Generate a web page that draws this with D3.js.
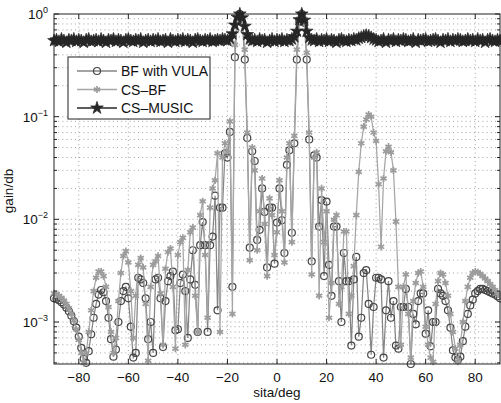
<!DOCTYPE html>
<html>
<head>
<meta charset="utf-8">
<script src="https://cdn.jsdelivr.net/npm/d3@7.9.0/dist/d3.min.js"></script>
<style>
  body { margin: 0; background: #fff; }
  svg { display: block; font-family: "Liberation Sans", Arial, Helvetica, sans-serif; }
</style>
</head>
<body>
<svg id="chart" width="501" height="403"></svg>
<script>
// angle grid (deg), one sample per degree
let angles = d3.range(-90, 91, 1);

// BF with VULA, -90 .. 90
let bfVula = [
  1.7e-3, 1.68e-3, 1.63e-3, 1.56e-3, 1.48e-3, 1.38e-3, 1.27e-3, 1.15e-3, 1.02e-3, 8.8e-4,
  7.2e-4, 5.6e-4, 4.4e-4, 4.0e-4, 5.2e-4, 7.6e-4, 1.1e-3, 1.5e-3, 1.85e-3, 2.05e-3,
  1.95e-3, 1.6e-3, 1.1e-3, 6.8e-4, 4.6e-4, 5.4e-4, 1.0e-3, 1.6e-3, 2.0e-3, 2.2e-3,
  1.7e-3, 9e-4, 4.5e-4, 5e-4, 2.7e-3, 2.6e-3, 2.4e-3, 1.7e-3, 6.8e-4, 1.0e-3,
  5e-4, 2.6e-3, 2.7e-3, 1.7e-3, 5.7e-4, 1.6e-3, 2.5e-3, 2.8e-3, 3.1e-3, 8.3e-4,
  8.5e-4, 2.4e-3, 2.9e-3, 2.0e-3, 7e-4, 2.6e-3, 5.0e-3, 2.3e-3, 8e-4, 5.6e-3,
  9.4e-3, 5.6e-3, 8e-4, 5.6e-3, 6.8e-3, 1.7e-2, 1.3e-3, 1.3e-2, 1.3e-2, 4.4e-2,
  4.0e-2, 7.1e-2, 2.2e-3, 0.38, 0.85, 1.0, 0.82, 0.36, 0.062, 0.0053,
  0.046, 0.037, 0.0063, 0.0079, 0.020, 0.0118, 0.0034, 0.013, 0.013, 0.0037,
  0.0093, 0.020, 0.0098, 0.0047, 0.034, 0.047, 0.0074, 0.055, 0.36, 0.85,
  1.0, 0.82, 0.36, 0.060, 0.0039, 0.042, 0.040, 0.0085, 0.0154, 0.0028,
  0.0149, 0.0036, 0.0018, 0.0085, 0.0085, 0.0025, 0.0010, 0.0047, 0.0025, 0.0025,
  5.9e-4, 0.0026, 0.0043, 7.2e-4, 0.0011, 0.0030, 0.0032, 0.0015, 4.8e-4, 0.0014,
  0.0027, 0.0027, 0.0026, 4.5e-4, 0.0013, 0.0025, 0.0011, 0.0016, 5.9e-4, 5.5e-4,
  0.0014, 0.0014, 0.0021, 0.0014, 3.9e-4, 0.0012, 9.5e-4, 0.0016, 0.0019, 0.0019,
  7.7e-4, 0.0013, 5.8e-4, 0.0010, 0.0010, 0.0021, 0.0019, 0.0018, 0.0016, 0.0013,
  8.8e-4, 5.3e-4, 4.5e-4, 4.3e-4, 4.6e-4, 6.5e-4, 9e-4, 1.2e-3, 1.45e-3, 1.65e-3,
  1.9e-3, 2.0e-3, 2.1e-3, 2.1e-3, 2.05e-3, 2.0e-3, 1.95e-3, 1.9e-3, 1.85e-3, 1.78e-3,
  1.7e-3
];

// CS-BF, -90 .. 90
let csBf = [
  1.9e-3, 1.87e-3, 1.8e-3, 1.72e-3, 1.62e-3, 1.5e-3, 1.36e-3, 1.2e-3, 1.03e-3, 8.5e-4,
  6.7e-4, 5.0e-4, 4.0e-4, 5.0e-4, 8e-4, 1.3e-3, 2.0e-3, 2.7e-3, 3.1e-3, 3.1e-3,
  2.8e-3, 2.2e-3, 1.4e-3, 8e-4, 5e-4, 7e-4, 1.6e-3, 3.0e-3, 4.4e-3, 4.9e-3,
  3.8e-3, 2.0e-3, 7e-4, 1.8e-3, 3.6e-3, 4.2e-3, 3.4e-3, 1.5e-3, 4.2e-4, 2.2e-3,
  3.6e-3, 3.9e-3, 4.4e-3, 1.9e-3, 6e-4, 3.3e-3, 4.8e-3, 5.2e-3, 2.2e-3, 5.5e-4,
  4.5e-3, 6.0e-3, 6.6e-3, 6e-4, 3.2e-3, 7.5e-3, 8.3e-3, 1.8e-3, 8e-4, 1.1e-2,
  1.5e-2, 4.5e-3, 1.1e-3, 1.3e-2, 2.0e-2, 2.4e-2, 4.4e-2, 8e-4, 4.0e-2, 5.5e-2,
  4.5e-2, 9.0e-2, 1.2e-3, 0.5, 0.9, 1.0, 0.9, 0.45, 0.07, 0.004,
  0.05, 0.03, 0.005, 0.012, 0.025, 0.009, 0.0028, 0.016, 0.011, 0.0045,
  0.0075, 0.024, 0.012, 0.0038, 0.04, 0.055, 0.006, 0.065, 0.45, 0.9,
  1.0, 0.9, 0.42, 0.07, 0.0029, 0.04, 0.045, 0.0018, 0.02, 0.006,
  0.012, 0.0011, 0.0024, 0.0099, 0.011, 0.0015, 0.0022, 0.0076, 0.0076, 0.0012,
  0.0018, 0.0035, 0.011, 0.029, 0.055, 0.08, 0.094, 0.105, 0.1, 0.07,
  0.058, 0.022, 0.0054, 0.025, 0.046, 0.051, 0.045, 0.03, 0.0095, 0.0022,
  6e-4, 2.2e-3, 2.9e-3, 1.2e-3, 4.5e-4, 1.6e-3, 2.4e-3, 3.0e-3, 3.1e-3, 2.2e-3,
  9e-4, 6e-4, 4.5e-4, 4.1e-4, 1.5e-3, 2.5e-3, 3.0e-3, 2.9e-3, 2.4e-3, 1.8e-3,
  1.2e-3, 8e-4, 5.5e-4, 4.1e-4, 6e-4, 1.0e-3, 1.6e-3, 2.2e-3, 2.7e-3, 3.0e-3,
  3.1e-3, 3.05e-3, 2.95e-3, 2.8e-3, 2.65e-3, 2.5e-3, 2.35e-3, 2.2e-3, 2.05e-3, 1.9e-3,
  1.8e-3
];

// CS-MUSIC, -90 .. 90
let csMusic = [
  0.55, 0.56, 0.54, 0.57, 0.55, 0.53, 0.56, 0.55, 0.57, 0.54,
  0.56, 0.55, 0.53, 0.56, 0.57, 0.54, 0.55, 0.56, 0.54, 0.57,
  0.55, 0.53, 0.56, 0.55, 0.57, 0.54, 0.56, 0.55, 0.53, 0.56,
  0.57, 0.55, 0.54, 0.56, 0.55, 0.57, 0.53, 0.55, 0.56, 0.54,
  0.56, 0.55, 0.57, 0.54, 0.55, 0.56, 0.53, 0.57, 0.55, 0.54,
  0.56, 0.55, 0.57, 0.54, 0.56, 0.55, 0.53, 0.56, 0.57, 0.55,
  0.54, 0.56, 0.55, 0.57, 0.54, 0.55, 0.56, 0.55, 0.57, 0.56,
  0.55, 0.58, 0.64, 0.78, 0.93, 1.0, 0.92, 0.76, 0.63, 0.57,
  0.55, 0.56, 0.54, 0.57, 0.55, 0.56, 0.53, 0.55, 0.57, 0.54,
  0.56, 0.55, 0.57, 0.54, 0.56, 0.55, 0.57, 0.60, 0.68, 0.88,
  1.0, 0.87, 0.68, 0.59, 0.56, 0.55, 0.57, 0.54, 0.56, 0.55,
  0.57, 0.54, 0.56, 0.55, 0.53, 0.56, 0.57, 0.55, 0.54, 0.56,
  0.55, 0.57, 0.56, 0.58, 0.59, 0.61, 0.62, 0.61, 0.59, 0.57,
  0.56, 0.54, 0.55, 0.57, 0.53, 0.56, 0.55, 0.57, 0.54, 0.56,
  0.55, 0.57, 0.56, 0.54, 0.55, 0.57, 0.53, 0.56, 0.55, 0.56,
  0.57, 0.54, 0.55, 0.56, 0.57, 0.55, 0.53, 0.56, 0.55, 0.57,
  0.54, 0.56, 0.55, 0.57, 0.56, 0.54, 0.55, 0.57, 0.55, 0.56,
  0.54, 0.57, 0.55, 0.56, 0.53, 0.56, 0.57, 0.55, 0.54, 0.56,
  0.55
];

let xTicks = [-80, -60, -40, -20, 0, 20, 40, 60, 80];
let yTicks = [1e-3, 1e-2, 1e-1, 1];
let yExponents = ['-3', '-2', '-1', '0'];
let seriesNames = ['BF with VULA', 'CS\u2013BF', 'CS\u2013MUSIC'];

let plotLeft = 54, plotRight = 500, plotTop = 14, plotBottom = 364;

let svg = d3.select('#chart');

let x = d3.scaleLinear().domain([-90, 90]).range([plotLeft, plotRight]);
let y = d3.scaleLog().domain([3.9e-4, 1]).range([plotBottom, plotTop]);

// minor log grid values 1..9 x 10^k inside the domain
let minorY = [];
[-4, -3, -2, -1, 0].forEach((k) => {
  for (let m = 1; m <= 9; m++) {
    let v = m * Math.pow(10, k);
    if (v >= 3.9e-4 && v <= 1) minorY.push(v);
  }
});

// grid
let grid = svg.append('g').attr('stroke', '#999').attr('stroke-width', 0.9)
  .attr('stroke-dasharray', '1,3.2');
minorY.forEach((v) => {
  if (v >= 1) return;
  grid.append('line').attr('x1', plotLeft).attr('x2', plotRight).attr('y1', y(v)).attr('y2', y(v));
});
xTicks.forEach((t) => {
  grid.append('line').attr('x1', x(t)).attr('x2', x(t)).attr('y1', plotTop).attr('y2', plotBottom);
});

// series
let data = angles.map((a, i) => ({ a: a, bf: bfVula[i], cs: csBf[i], mu: csMusic[i] }));

let styles = [
  { key: 'bf', line: '#858585', mark: '#454545', type: 'circle' },
  { key: 'cs', line: '#a6a6a6', mark: '#9c9c9c', type: 'asterisk' },
  { key: 'mu', line: '#262626', mark: '#262626', type: 'star' }
];

let starPath = d3.symbol().type(d3.symbolStar).size(50)();
let asteriskPath = d3.symbol().type(d3.symbolAsterisk).size(36)();

function drawMarker(g, type, cx, cy, color) {
  if (type === 'circle') {
    g.append('circle').attr('cx', cx).attr('cy', cy).attr('r', 3.5)
      .attr('fill', 'none').attr('stroke', color).attr('stroke-width', 1.2);
  } else if (type === 'asterisk') {
    g.append('path').attr('d', asteriskPath).attr('transform', `translate(${cx},${cy})`)
      .attr('fill', 'none').attr('stroke', color).attr('stroke-width', 1.7);
  } else {
    g.append('path').attr('d', starPath).attr('transform', `translate(${cx},${cy})`)
      .attr('fill', color).attr('stroke', color).attr('stroke-width', 0.7);
  }
}

styles.forEach((s) => {
  let line = d3.line().x((d) => x(d.a)).y((d) => y(d[s.key]));
  svg.append('path').datum(data).attr('d', line)
    .attr('fill', 'none').attr('stroke', s.line).attr('stroke-width', 1.25);
  let g = svg.append('g');
  data.forEach((d) => drawMarker(g, s.type, x(d.a), y(d[s.key]), s.mark));
});

// frame and ticks
let axis = svg.append('g').attr('stroke', '#222').attr('stroke-width', 1);
axis.append('rect').attr('x', plotLeft).attr('y', plotTop).attr('width', plotRight - plotLeft)
  .attr('height', plotBottom - plotTop).attr('fill', 'none');
xTicks.forEach((t) => {
  axis.append('line').attr('x1', x(t)).attr('x2', x(t)).attr('y1', plotBottom).attr('y2', plotBottom - 5);
  axis.append('line').attr('x1', x(t)).attr('x2', x(t)).attr('y1', plotTop).attr('y2', plotTop + 5);
});
minorY.forEach((v) => {
  let len = yTicks.includes(v) ? 5 : 3;
  axis.append('line').attr('x1', plotLeft).attr('x2', plotLeft + len).attr('y1', y(v)).attr('y2', y(v));
  axis.append('line').attr('x1', plotRight).attr('x2', plotRight - len).attr('y1', y(v)).attr('y2', y(v));
});

// tick labels
let labels = svg.append('g').attr('fill', '#111').attr('font-size', 13.5);
xTicks.forEach((t) => {
  labels.append('text').attr('x', x(t)).attr('y', 382).attr('text-anchor', 'middle')
    .text(t < 0 ? '\u2212' + Math.abs(t) : String(t));
});
yTicks.forEach((v, i) => {
  let txt = labels.append('text').attr('x', 48).attr('y', y(v) + 5).attr('text-anchor', 'end');
  txt.append('tspan').text('10');
  txt.append('tspan').attr('font-size', 9).attr('dy', -6)
    .text(yExponents[i].replace('-', '\u2212'));
});

labels.append('text').attr('x', 277).attr('y', 397).attr('text-anchor', 'middle').text('sita/deg');
labels.append('text').attr('transform', 'translate(13,191) rotate(-90)')
  .attr('text-anchor', 'middle').text('gain/db');

// legend
let legend = svg.append('g');
legend.append('rect').attr('x', 68).attr('y', 57).attr('width', 142).attr('height', 62)
  .attr('fill', '#fff').attr('stroke', '#222').attr('stroke-width', 1);
let rowY = [71, 89.5, 108];
styles.forEach((s, i) => {
  legend.append('line').attr('x1', 77).attr('x2', 117).attr('y1', rowY[i]).attr('y2', rowY[i])
    .attr('stroke', s.line).attr('stroke-width', 1.4);
  drawMarker(legend, s.type, 97, rowY[i], s.mark);
  legend.append('text').attr('x', 121).attr('y', rowY[i] + 5).attr('font-size', 14)
    .attr('fill', '#111').text(seriesNames[i]);
});
</script>
</body>
</html>
